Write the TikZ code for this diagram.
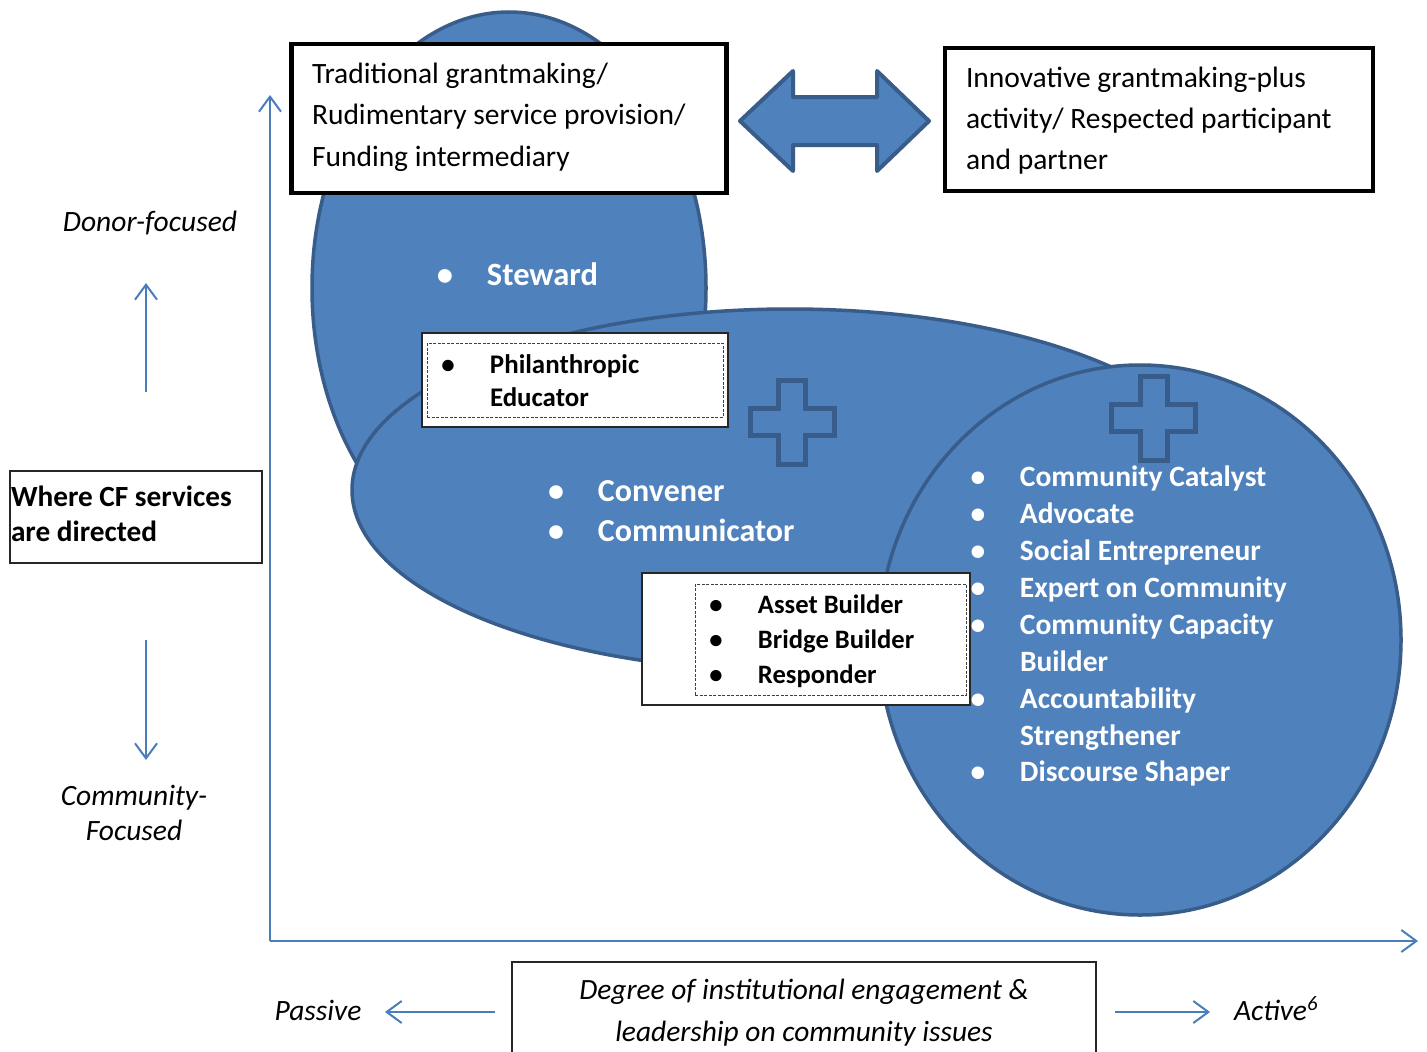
\documentclass[tikz,border=0pt]{standalone}
\usepackage{fontspec}
\setmainfont{Carlito}
\usetikzlibrary{arrows.meta,shapes.geometric}
\definecolor{fillblue}{HTML}{4F81BD}
\definecolor{edgeblue}{HTML}{385D8A}
\definecolor{axisblue}{HTML}{4A7EBB}
\newcommand{\bul}{\llap{\makebox[0pt][c]{\textbullet}\hspace{42pt}}}
\newcommand{\fs}[2]{\fontsize{#1}{#2}\selectfont}
\begin{document}
\begin{tikzpicture}[x=1pt,y=-1pt,
  blob/.style={ellipse, fill=fillblue, draw=edgeblue, line width=3.5pt, inner sep=0pt, outer sep=0pt},
  crossline/.style={draw=edgeblue, line width=5pt, line join=miter},
  axisline/.style={draw=axisblue, line width=2pt, -{Straight Barb[length=15pt,width=22pt,line width=2pt]}},
  thickbox/.style={draw=black, line width=4.5pt, fill=white, inner sep=0pt, outer sep=0pt},
  thinbox/.style={draw=black!85, line width=1.5pt, fill=white, inner sep=0pt, outer sep=0pt},
  dashbox/.style={draw=black!75, line width=1pt, dash pattern=on 3pt off 1.5pt, inner sep=0pt, outer sep=0pt},
  txt/.style={inner sep=0pt, outer sep=0pt, anchor=base west},
  ctxt/.style={inner sep=0pt, outer sep=0pt, anchor=base}
]
\useasboundingbox (0,0) rectangle (1427,1052);
\fill[white] (0,0) rectangle (1427,1052);

% blobs
\node[blob, minimum width=394pt, minimum height=552pt] (stewardblob) at (509,288) {};
\node[blob, minimum width=876pt, minimum height=362pt] (convblob) at (790,490) {};
\node[blob, minimum width=522pt, minimum height=550pt] (catblob) at (1140,640) {};

% crosses
\draw[crossline] (792,422) ++(-13.5,-42) -- ++(27,0) -- ++(0,28.5) -- ++(28.5,0) -- ++(0,27) -- ++(-28.5,0) -- ++(0,28.5) -- ++(-27,0) -- ++(0,-28.5) -- ++(-28.5,0) -- ++(0,-27) -- ++(28.5,0) -- cycle;
\draw[crossline] (1153.5,418) ++(-13.5,-42) -- ++(27,0) -- ++(0,28.5) -- ++(28.5,0) -- ++(0,27) -- ++(-28.5,0) -- ++(0,28.5) -- ++(-27,0) -- ++(0,-28.5) -- ++(-28.5,0) -- ++(0,-27) -- ++(28.5,0) -- cycle;

% double arrow
\draw[fill=fillblue, draw=edgeblue, line width=4pt, line join=round]
  (740,121) -- (793,71) -- (793,97) -- (877,97) -- (877,71) -- (929,121) -- (877,171) -- (877,145) -- (793,145) -- (793,171) -- cycle;

% top boxes
\node[thickbox, minimum width=435pt, minimum height=149pt] (tradbox) at (509,118.5) {};
\node[thickbox, minimum width=428pt, minimum height=143pt] (innbox) at (1159,119.5) {};
\node[txt] (tradtxt) at (312,83) {\fs{29.5}{41.5}\begin{tabular}[t]{@{}l@{}}Traditional grantmaking/\\Rudimentary service provision/\\Funding intermediary\end{tabular}};
\node[txt] (inntxt) at (966,87) {\fs{29.5}{41.2}\begin{tabular}[t]{@{}l@{}}Innovative grantmaking-plus\\activity/ Respected participant\\and partner\end{tabular}};

% texts in blobs
\node[txt, text=white] (steward) at (487,285) {\fs{32.5}{40}\bfseries\bul Steward};
\node[txt, text=white] (convener) at (598,501.7) {\fs{32}{40}\bfseries\begin{tabular}[t]{@{}l@{}}\bul Convener\\\bul Communicator\end{tabular}};
\node[txt, text=white] (catalyst) at (1020,486.7) {\fs{29.5}{36.9}\bfseries\begin{tabular}[t]{@{}l@{}}\bul Community Catalyst\\\bul Advocate\\\bul Social Entrepreneur\\\bul Expert on Community\\\bul Community Capacity\\Builder\\\bul Accountability\\Strengthener\\\bul Discourse Shaper\end{tabular}};

% white boxes
\node[thinbox, minimum width=306pt, minimum height=94pt] (philbox) at (575,380) {};
\node[dashbox, minimum width=296pt, minimum height=74pt] (phildash) at (575,380) {};
\node[txt] (philtxt) at (490,373.3) {\fs{26.9}{33.3}\bfseries\begin{tabular}[t]{@{}l@{}}\bul Philanthropic\\Educator\end{tabular}};
\node[thinbox, minimum width=328pt, minimum height=132pt] (assetbox) at (806,639) {};
\node[dashbox, minimum width=271pt, minimum height=111pt] (assetdash) at (830.5,639.5) {};
\node[txt] (assettxt) at (758,613.3) {\fs{26.6}{35.3}\bfseries\begin{tabular}[t]{@{}l@{}}\bul Asset Builder\\\bul Bridge Builder\\\bul Responder\end{tabular}};

% axes
\coordinate (origin) at (270,941);
\coordinate (ytop) at (270,95);
\coordinate (xend) at (1418,941);
\draw[axisline] (origin) -- (ytop);
\draw[axisline] (origin) -- (xend);

% left labels
\node[thinbox, minimum width=252pt, minimum height=92pt] (wherebox) at (136,517) {};
\node[txt] (wheretxt) at (11,506.7) {\fs{29.3}{35}\bfseries\begin{tabular}[t]{@{}l@{}}Where CF services\\are directed\end{tabular}};
\node[ctxt] (donor) at (150,231.7) {\fs{29.5}{35}\itshape Donor-focused};
\node[ctxt] (commfoc) at (134,805) {\fs{29.5}{35}\itshape\begin{tabular}[t]{@{}c@{}}Community-\\Focused\end{tabular}};
\coordinate (upfrom) at (146,392);
\coordinate (upto) at (146,283);
\coordinate (dnfrom) at (146,640);
\coordinate (dnto) at (146,760);
\draw[axisline] (upfrom) -- (upto);
\draw[axisline] (dnfrom) -- (dnto);

% bottom labels
\node[thinbox, minimum width=584pt, minimum height=140pt] (degbox) at (804,1032) {};
\node[ctxt] (degtxt) at (804,999) {\fs{29.4}{42}\itshape\begin{tabular}[t]{@{}c@{}}Degree of institutional engagement \&\\leadership on community issues\end{tabular}};
\node[ctxt] (passive) at (318,1020) {\fs{29.5}{35}\itshape Passive};
\node[txt] (active) at (1234,1020) {\fs{29.5}{35}\itshape Active\textsuperscript{6}};
\coordinate (lfrom) at (495,1012);
\coordinate (lto) at (385,1012);
\coordinate (rfrom) at (1115,1012);
\coordinate (rto) at (1210,1012);
\draw[axisline] (lfrom) -- (lto);
\draw[axisline] (rfrom) -- (rto);
\end{tikzpicture}
\end{document}
